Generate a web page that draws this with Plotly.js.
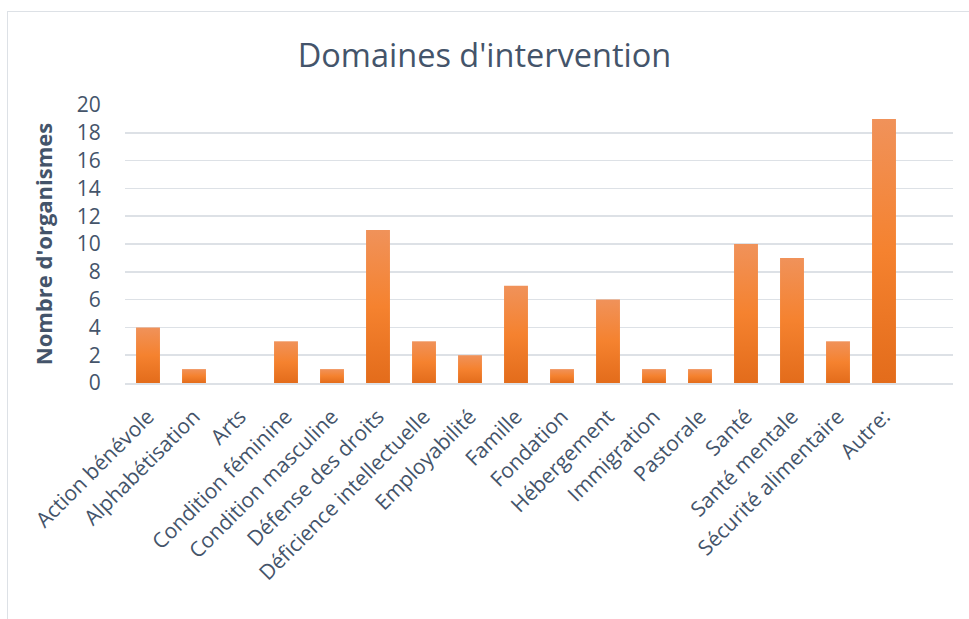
<!DOCTYPE html>
<html>
<head>
<meta charset="utf-8">
<script src="https://cdn.plot.ly/plotly-3.0.1.min.js"></script>
<style>
  html, body { margin: 0; padding: 0; background: #fff; }
  #wrap { position: relative; width: 969px; height: 619px; overflow: hidden; }
  #chart { width: 969px; height: 619px; }
  #frame { position: absolute; left: 7px; top: 11px; width: 1000px; height: 700px;
           border: 1.5px solid #dde1e6; pointer-events: none; box-sizing: border-box; }
</style>
</head>
<body>
<div id="wrap">
  <div id="chart"></div>
  <div id="frame"></div>
</div>
<script>
const categories = [
  "Action bénévole", "Alphabétisation", "Arts", "Condition féminine",
  "Condition masculine", "Défense des droits", "Déficience intellectuelle",
  "Employabilité", "Famille", "Fondation", "Hébergement", "Immigration",
  "Pastorale", "Santé", "Santé mentale", "Sécurité alimentaire", "Autre:"
];
const values = [4, 1, 0, 3, 1, 11, 3, 2, 7, 1, 6, 1, 1, 10, 9, 3, 19];
const yTicks = [0, 2, 4, 6, 8, 10, 12, 14, 16, 18, 20];

const textColor = "#44546A";
const gridColor = "#dde1e6";

const trace = {
  type: "bar",
  x: categories,
  y: values,
  width: 0.52,
  marker: { color: "#F07D2E", line: { width: 0 } },
  hoverinfo: "x+y"
};

const layout = {
  width: 969,
  height: 619,
  margin: { l: 125, r: 16, t: 105, b: 236 },
  paper_bgcolor: "#ffffff",
  plot_bgcolor: "#ffffff",
  showlegend: false,
  font: { family: "Open Sans, sans-serif", color: textColor },
  title: {
    text: "Domaines d'intervention",
    font: { family: "Open Sans, sans-serif", size: 32.5, color: textColor },
    x: 0.5, xanchor: "center",
    y: 1 - 56 / 619, yanchor: "middle", yref: "container"
  },
  xaxis: {
    type: "category",
    range: [-0.5, categories.length + 0.5],
    tickangle: -45,
    tickfont: { size: 21, color: textColor },
    ticks: "outside", ticklen: 11, tickcolor: "rgba(0,0,0,0)",
    showgrid: false,
    showline: true, linecolor: gridColor, linewidth: 2,
    zeroline: false,
    fixedrange: true
  },
  yaxis: {
    range: [0, 20],
    tickvals: yTicks,
    ticktext: yTicks.map(String),
    tickfont: { size: 21, color: textColor },
    ticks: "outside", ticklen: 19, tickcolor: "rgba(0,0,0,0)",
    showgrid: true, gridcolor: gridColor, gridwidth: 1.5,
    zeroline: false,
    showline: false,
    title: {
      text: "<b>Nombre d'organismes</b>",
      font: { family: "Open Sans, sans-serif", size: 22, color: textColor },
      standoff: 18
    },
    fixedrange: true
  }
};

Plotly.newPlot("chart", [trace], layout, { displayModeBar: false, staticPlot: true }).then(function (gd) {
  const svg = gd.querySelector("svg.main-svg");
  const ns = "http://www.w3.org/2000/svg";
  let defs = svg.querySelector("defs");
  if (!defs) { defs = document.createElementNS(ns, "defs"); svg.insertBefore(defs, svg.firstChild); }
  const lg = document.createElementNS(ns, "linearGradient");
  lg.setAttribute("id", "barGrad");
  lg.setAttribute("x1", "0"); lg.setAttribute("y1", "0");
  lg.setAttribute("x2", "0"); lg.setAttribute("y2", "1");
  [["0", "#F0925A"], ["0.5", "#F5822F"], ["1", "#E36C1B"]].forEach(function (s) {
    const st = document.createElementNS(ns, "stop");
    st.setAttribute("offset", s[0]);
    st.setAttribute("stop-color", s[1]);
    lg.appendChild(st);
  });
  defs.appendChild(lg);
  gd.querySelectorAll(".bars .point path").forEach(function (p) {
    p.style.fill = "url(#barGrad)";
  });
});
</script>
</body>
</html>
